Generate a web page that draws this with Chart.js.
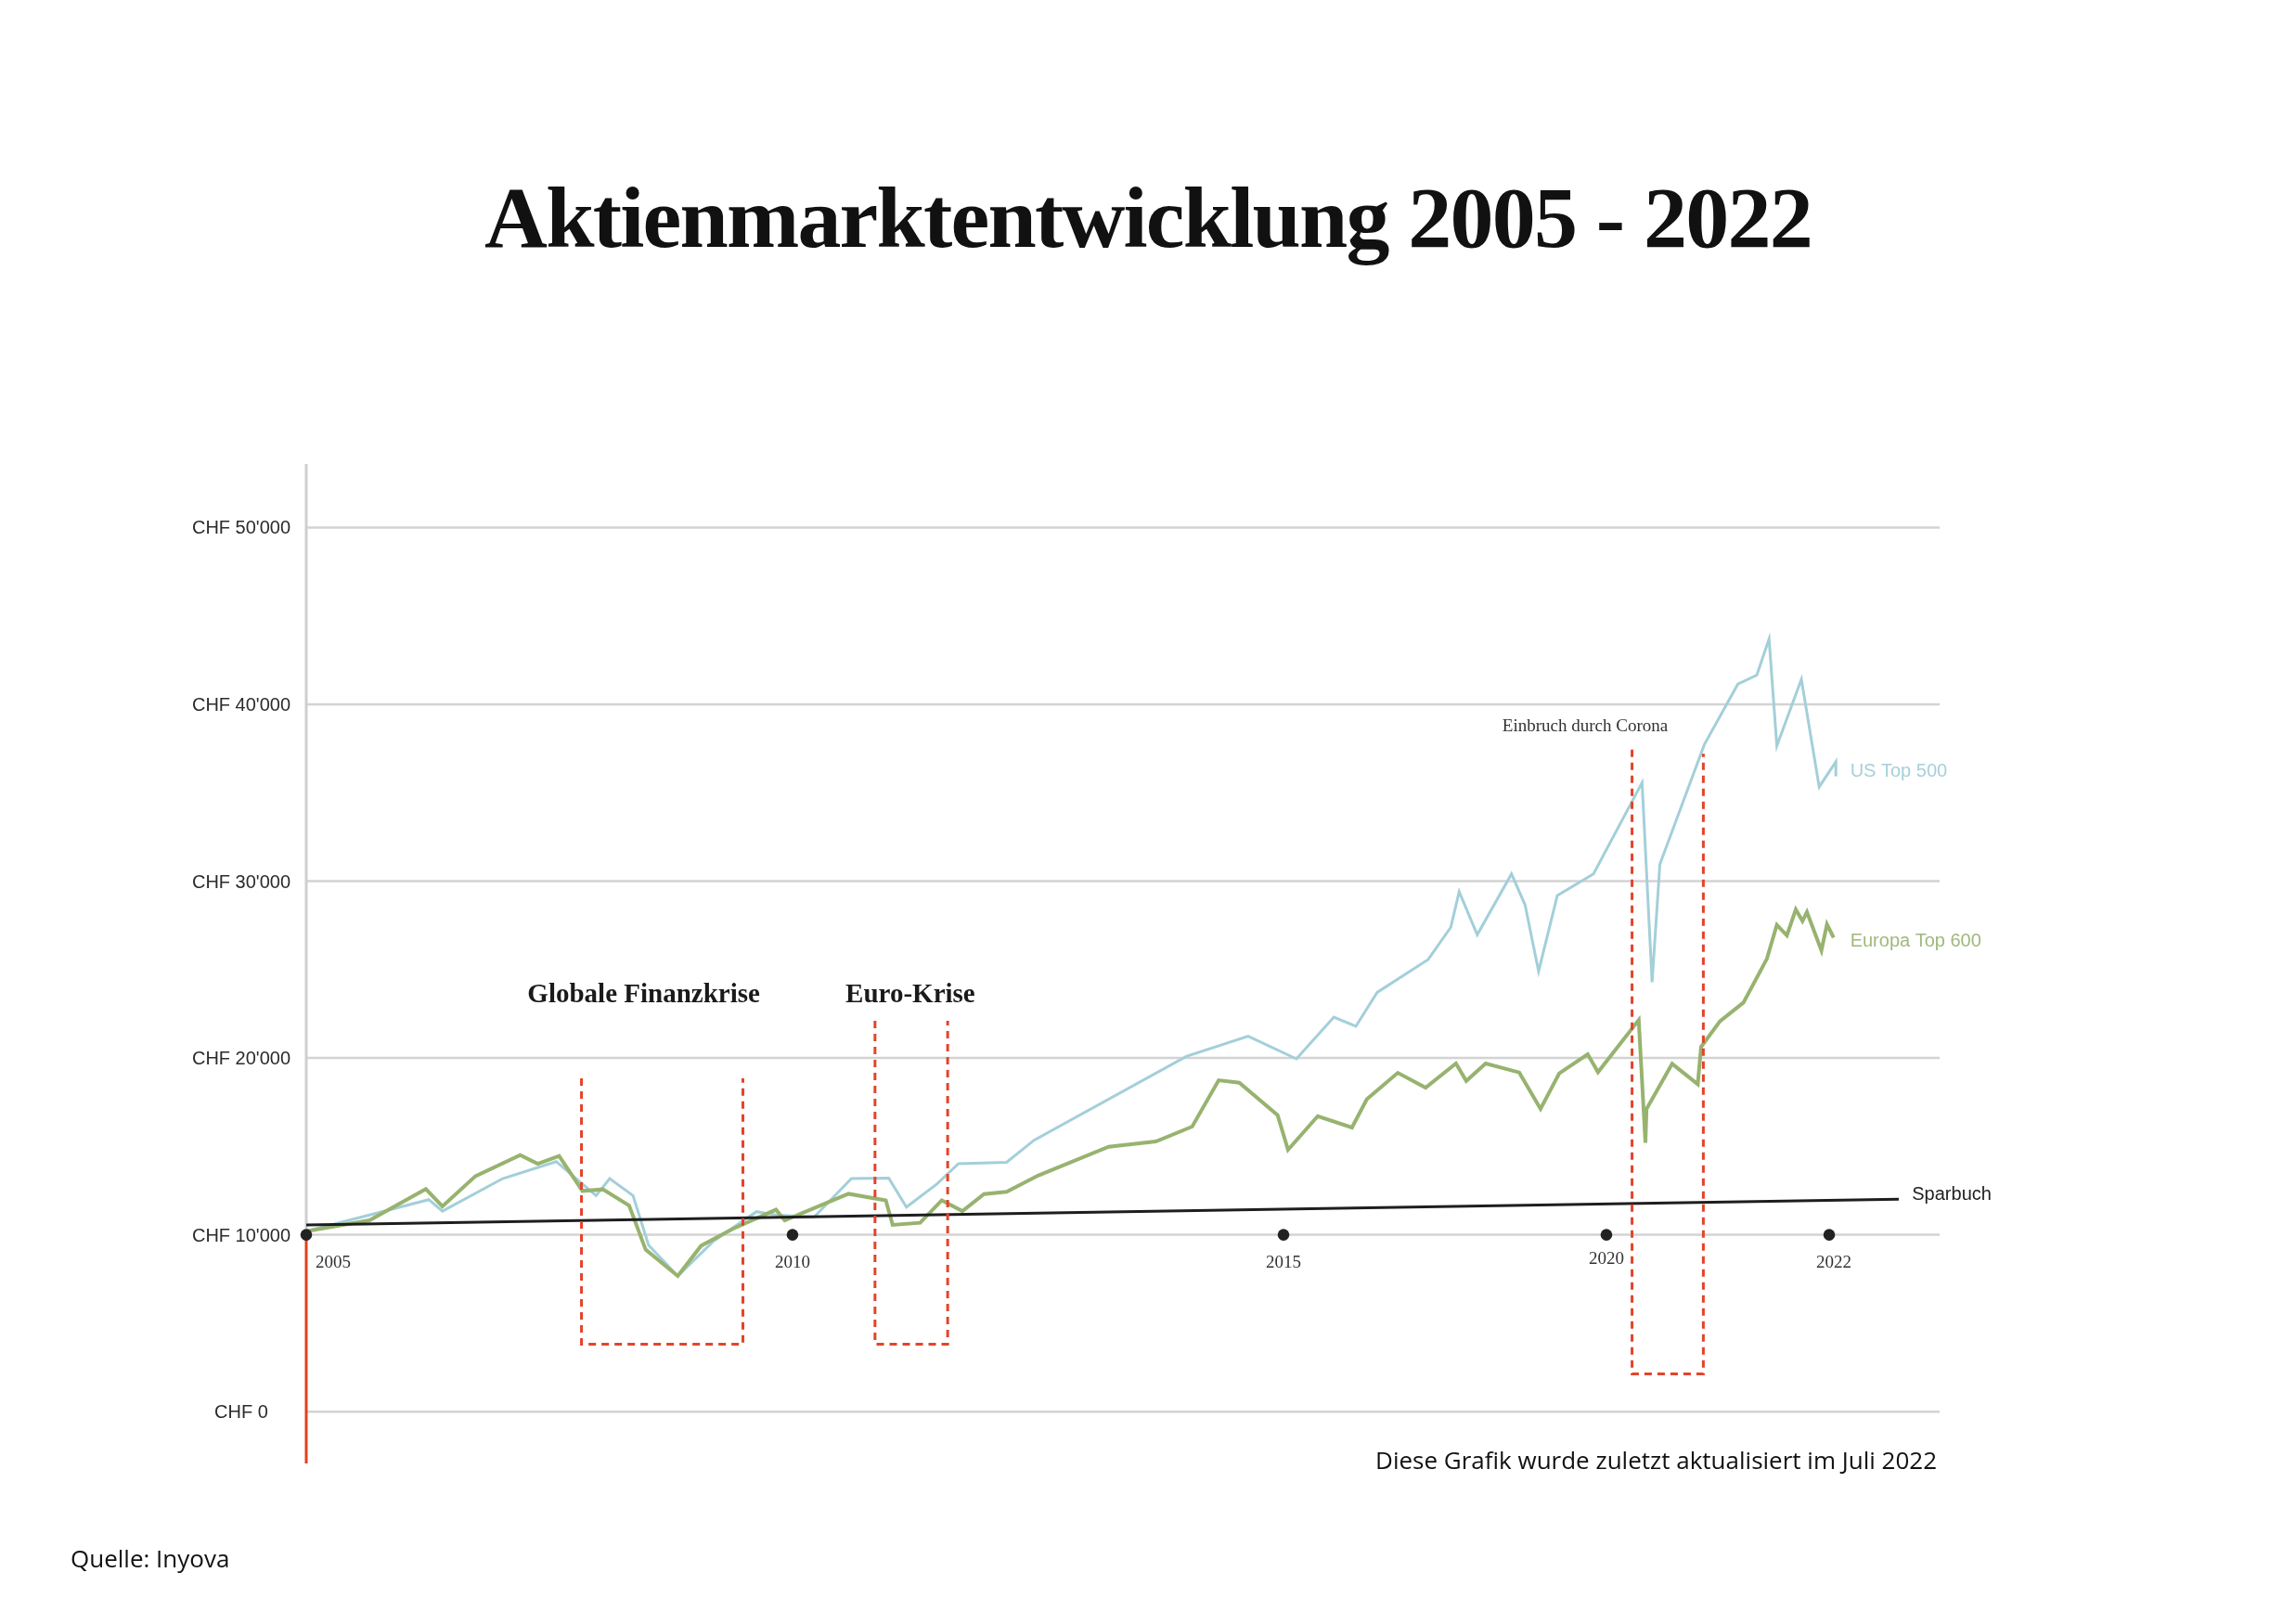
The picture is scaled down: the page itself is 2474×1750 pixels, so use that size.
<!DOCTYPE html>
<html lang="de">
<head>
<meta charset="utf-8">
<title>Aktienmarktentwicklung 2005 - 2022</title>
<script src="https://cdn.jsdelivr.net/npm/chart.js@4.4.0/dist/chart.umd.min.js"></script>
<style>
  html, body { margin: 0; padding: 0; background: #fff; }
  body { width: 2474px; height: 1750px; position: relative; overflow: hidden; }
  #wrap { position: absolute; left: 0; top: 0; width: 2474px; height: 1750px; }
  h1 {
    position: absolute; left: 0; top: 187px; width: 2474px; margin: 0;
    text-align: center; padding-left: 0; box-sizing: border-box;
    font: bold 94px/94px "Liberation Serif", serif; letter-spacing: -1.8px; color: #111;
  }
  .note { position: absolute; margin: 0; font: 26px/26px "Open Sans", sans-serif; color: #111; white-space: nowrap; }
  #stand { right: 387px; top: 1560px; }
  #quelle { left: 76px; top: 1666px; }
</style>
</head>
<body>
<div id="wrap"><canvas id="chart"></canvas></div>
<h1>Aktienmarktentwicklung 2005 - 2022</h1>
<p class="note" id="stand">Diese Grafik wurde zuletzt aktualisiert im Juli 2022</p>
<p class="note" id="quelle">Quelle: Inyova</p>
<script>
// Werte: Jahr als Dezimalzahl, Wert in CHF
const yearTicks = [2005, 2010, 2015, 2020, 2022];
const chfTicks = [0, 10000, 20000, 30000, 40000, 50000];

const usYears = [2005.00, 2005.65, 2006.26, 2006.40, 2007.02, 2007.57, 2007.98, 2008.12, 2008.36, 2008.52,
  2008.82, 2009.19, 2009.63, 2009.83, 2010.22, 2010.60, 2010.98, 2011.16, 2011.47, 2011.69,
  2012.18, 2012.46, 2014.01, 2014.64, 2015.20, 2015.78, 2016.12, 2016.45, 2017.24, 2017.59,
  2017.72, 2018.00, 2018.53, 2018.74, 2018.95, 2019.24, 2019.80, 2020.32, 2020.41, 2020.48,
  2020.88, 2021.18, 2021.35, 2021.46, 2021.53, 2021.75, 2021.91, 2022.06, 2022.06];
const usValues = [10200, 11120, 11990, 11340, 13180, 14140, 12220, 13180, 12220, 9420,
  7670, 9650, 11310, 11120, 11000, 13180, 13210, 11570, 12870, 14020,
  14100, 15350, 20090, 21230, 19950, 22310, 21790, 23710, 25570, 27390,
  29400, 26970, 30410, 28660, 24900, 29190, 30410, 35570, 24280, 30960,
  37740, 41140, 41650, 43700, 37650, 41410, 35330, 36750, 35930];

const euYears = [2005.00, 2005.65, 2006.23, 2006.40, 2006.74, 2007.20, 2007.38, 2007.60, 2007.84, 2008.05,
  2008.32, 2008.49, 2008.82, 2009.06, 2009.39, 2009.83, 2009.92, 2010.57, 2010.95, 2011.02,
  2011.30, 2011.52, 2011.73, 2011.95, 2012.18, 2012.50, 2013.22, 2013.70, 2014.07, 2014.34,
  2014.55, 2014.94, 2015.07, 2015.53, 2016.06, 2016.29, 2016.77, 2017.20, 2017.67, 2017.83,
  2018.13, 2018.65, 2018.98, 2019.27, 2019.71, 2019.87, 2020.29, 2020.35, 2020.36, 2020.59,
  2020.82, 2020.85, 2021.02, 2021.23, 2021.44, 2021.53, 2021.62, 2021.70, 2021.76, 2021.80,
  2021.93, 2021.98, 2022.04];
const euValues = [10200, 10820, 12590, 11610, 13320, 14510, 14020, 14460, 12480, 12570,
  11660, 9160, 7670, 9380, 10350, 11420, 10810, 12320, 11950, 10560,
  10680, 11950, 11340, 12300, 12430, 13350, 14980, 15280, 16120, 18740,
  18600, 16770, 14810, 16710, 16070, 17670, 19160, 18320, 19690, 18700,
  19690, 19180, 17120, 19130, 20210, 19200, 22150, 15210, 17110, 19670,
  18520, 20630, 22080, 23130, 25600, 27530, 26930, 28400, 27740, 28250,
  26080, 27560, 26810];

const sparYears = [2005.00, 2022.63];
const sparValues = [10560, 12010];

// Krisen: [von, bis, oben links, oben rechts, unten]
const finanzkrise = [2007.83, 2009.49, 18850, 18850, 3820];
const euroKrise = [2010.84, 2011.58, 22100, 22100, 3820];
const corona = [2020.23, 2020.87, 37440, 37200, 2140];

// Die Zeitachse der Vorlage ist nicht gleichmässig: Ankerjahre und ihr Anteil an der Breite
const axisYears = [2005, 2010, 2015, 2020, 2022, 2023];
const axisShare = [0, 0.2977, 0.5983, 0.7960, 0.9324, 1];

class WarpedYearScale extends Chart.LinearScale {
  static id = 'warpedYear';
  static defaults = {};
  getPixelForValue(value) {
    let i = 0;
    while (i < axisYears.length - 2 && value > axisYears[i + 1]) i++;
    const t = (value - axisYears[i]) / (axisYears[i + 1] - axisYears[i]);
    return this.getPixelForDecimal(axisShare[i] + t * (axisShare[i + 1] - axisShare[i]));
  }
}
Chart.register(WarpedYearScale);

const pts = (xs, ys) => xs.map((x, i) => ({ x: x, y: ys[i] }));
const box = b => [{ x: b[0], y: b[2] }, { x: b[0], y: b[4] }, { x: b[1], y: b[4] }, { x: b[1], y: b[3] }];
const chf = v => 'CHF ' + (v === 0 ? '0' : (v / 1000) + "'000");

const gridPlugin = {
  id: 'raster',
  beforeDatasetsDraw(chart) {
    const { ctx, chartArea, scales: { y } } = chart;
    ctx.save();
    ctx.strokeStyle = '#d3d3d3';
    ctx.lineWidth = 2.5;
    chfTicks.forEach(v => {
      const py = y.getPixelForValue(v);
      ctx.beginPath();
      ctx.moveTo(chartArea.left, py);
      ctx.lineTo(chartArea.right, py);
      ctx.stroke();
    });
    const p10 = y.getPixelForValue(10000);
    ctx.lineWidth = 3;
    ctx.strokeStyle = '#cfcfcf';
    ctx.beginPath();
    ctx.moveTo(chartArea.left, chartArea.top);
    ctx.lineTo(chartArea.left, p10);
    ctx.stroke();
    ctx.strokeStyle = '#e2401f';
    ctx.beginPath();
    ctx.moveTo(chartArea.left, p10);
    ctx.lineTo(chartArea.left, chartArea.bottom);
    ctx.stroke();
    ctx.restore();
  }
};

const labelPlugin = {
  id: 'beschriftung',
  afterDraw(chart) {
    const { ctx, chartArea, scales: { x, y } } = chart;
    ctx.save();
    ctx.textBaseline = 'alphabetic';

    // CHF-Achse
    ctx.font = '20px "Liberation Sans", Arial, sans-serif';
    ctx.fillStyle = '#2b2b2b';
    ctx.textAlign = 'center';
    chfTicks.forEach(v => ctx.fillText(chf(v), chartArea.left - 70, y.getPixelForValue(v) + 7));

    // Jahre unter den Punkten
    ctx.font = '19px "Liberation Serif", serif';
    ctx.fillStyle = '#333';
    const base = y.getPixelForValue(10000);
    yearTicks.forEach((yr, i) => {
      const dx = i === 0 ? 29 : (i === yearTicks.length - 1 ? 5 : 0);
      const dy = yr === 2020 ? 31 : 35;
      ctx.fillText(String(yr), x.getPixelForValue(yr) + dx, base + dy);
    });

    // Krisen
    ctx.font = 'bold 29px "Liberation Serif", serif';
    ctx.fillStyle = '#1a1a1a';
    ctx.fillText('Globale Finanzkrise', x.getPixelForValue(2008.47), y.getPixelForValue(23150));
    ctx.fillText('Euro-Krise', x.getPixelForValue(2011.20), y.getPixelForValue(23150));
    ctx.font = '19px "Liberation Serif", serif';
    ctx.fillStyle = '#333';
    ctx.fillText('Einbruch durch Corona', x.getPixelForValue(2019.67), y.getPixelForValue(38490));

    // Reihen
    ctx.textAlign = 'left';
    ctx.font = '20px "Liberation Sans", Arial, sans-serif';
    ctx.fillStyle = '#a6d0da';
    ctx.fillText('US Top 500', x.getPixelForValue(2022.19), y.getPixelForValue(35900));
    ctx.fillStyle = '#a0b87c';
    ctx.fillText('Europa Top 600', x.getPixelForValue(2022.19), y.getPixelForValue(26290));
    ctx.fillStyle = '#222';
    ctx.fillText('Sparbuch', x.getPixelForValue(2022.75), y.getPixelForValue(11970));
    ctx.restore();
  }
};

const krisenStil = {
  showLine: true, borderColor: '#e4432b', borderWidth: 3, borderDash: [8, 6],
  pointRadius: 0, order: 1, clip: false
};

new Chart(document.getElementById('chart'), {
  type: 'scatter',
  data: {
    datasets: [
      {
        label: 'Jahre', data: yearTicks.map(yr => ({ x: yr, y: 10000 })),
        pointRadius: 6.3, pointBackgroundColor: '#222', pointBorderWidth: 0,
        showLine: false, clip: false, order: 0
      },
      Object.assign({ label: 'Globale Finanzkrise', data: box(finanzkrise) }, krisenStil),
      Object.assign({ label: 'Euro-Krise', data: box(euroKrise) }, krisenStil),
      Object.assign({ label: 'Einbruch durch Corona', data: box(corona) }, krisenStil),
      {
        label: 'Sparbuch', data: pts(sparYears, sparValues), showLine: true,
        borderColor: '#1e1e1e', borderWidth: 3, pointRadius: 0, order: 2
      },
      {
        label: 'Europa Top 600', data: pts(euYears, euValues), showLine: true,
        borderColor: '#97b36f', borderWidth: 4, pointRadius: 0, order: 3
      },
      {
        label: 'US Top 500', data: pts(usYears, usValues), showLine: true,
        borderColor: '#a3cfd9', borderWidth: 3, pointRadius: 0, order: 4
      }
    ]
  },
  options: {
    responsive: true,
    maintainAspectRatio: false,
    animation: false,
    layout: { padding: { left: 330, right: 384, top: 500, bottom: 173 } },
    scales: {
      x: { type: 'warpedYear', min: 2005, max: 2023, display: false },
      y: { type: 'linear', min: -2930, max: 53590, display: false }
    },
    plugins: {
      legend: { display: false },
      tooltip: { enabled: false }
    }
  },
  plugins: [gridPlugin, labelPlugin]
});
</script>
</body>
</html>
